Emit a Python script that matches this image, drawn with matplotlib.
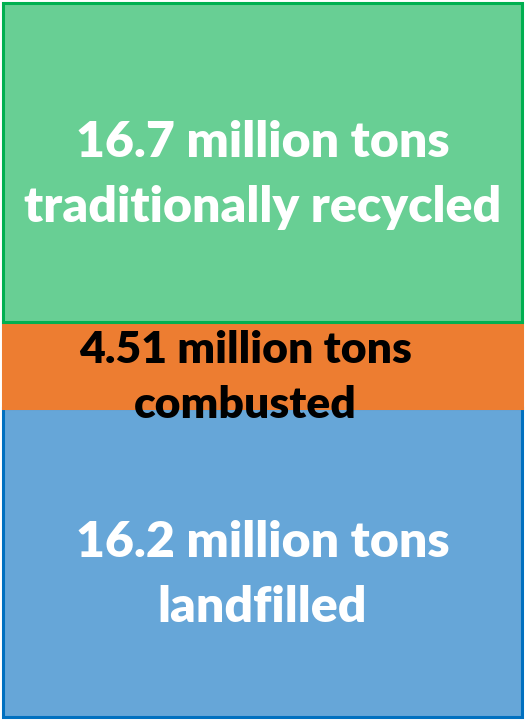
import matplotlib.pyplot as plt
from matplotlib.patches import Rectangle

# tonnage by fate (million tons), stacked bottom to top
labels = ['16.2 million tons\nlandfilled', '4.51 million tons\ncombusted',
          '16.7 million tons\ntraditionally recycled']
tons = [16.2, 4.51, 16.7]
fills = ['#66A6D8', '#ED7D31', '#68CF94']
edges = ['#0070C0', '#ED7D31', '#00B050']
text_colors = ['white', 'black', 'white']
text_sizes = [36, 32, 36]
line_gaps = [1.55, 1.47, 1.55]

fig = plt.figure(figsize=(5.25, 7.2), dpi=100)
ax = fig.add_axes([0, 0, 1, 1])
total = sum(tons)
ax.set_xlim(-0.005, 1.005)
ax.set_ylim(-0.004 * total, 1.004 * total)
ax.axis('off')

bottom = 0.0
for lab, v, fc, ec, tc, fs, ls in zip(labels, tons, fills, edges,
                                      text_colors, text_sizes, line_gaps):
    ax.add_patch(Rectangle((0, bottom), 1, v, facecolor=fc, edgecolor=ec,
                           linewidth=2.2, zorder=1))
    xc = 0.5 if tc == 'white' else 0.467
    ax.annotate(lab, (xc, bottom + v / 2), xytext=(0, -9),
                textcoords='offset points', ha='center', va='center',
                color=tc, fontsize=fs, fontweight='heavy',
                family=['Lato', 'DejaVu Sans'], linespacing=ls, zorder=5)
    bottom += v

fig.savefig('out.png', dpi=100)
